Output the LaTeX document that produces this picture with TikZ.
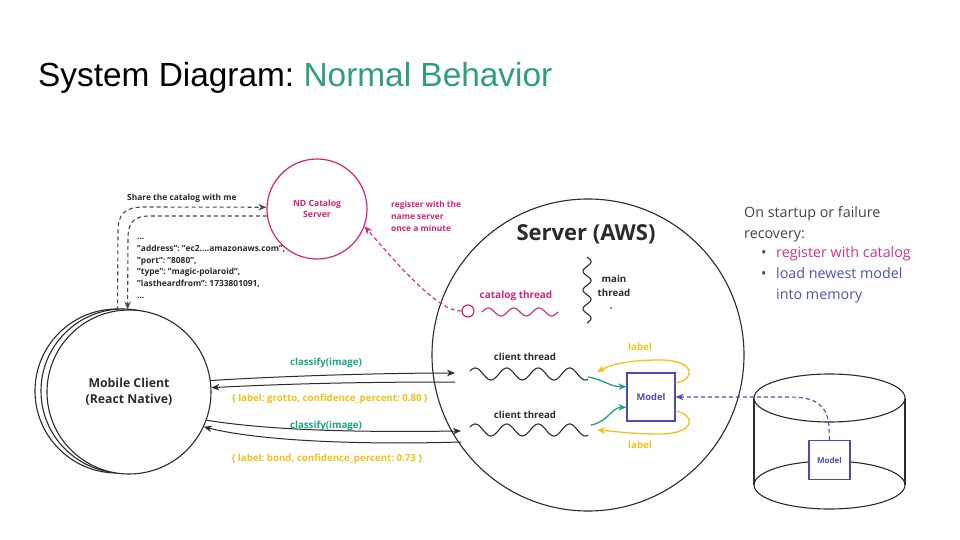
\documentclass[tikz,border=0pt]{standalone}
\usepackage{fontspec}
\setmainfont{Open Sans}
\newfontfamily\titlefont{Liberation Sans}
\usetikzlibrary{arrows.meta}
\definecolor{titlegreen}{HTML}{2E9E7F}
\definecolor{catmag}{HTML}{D4237A}
\definecolor{reqteal}{HTML}{1BA488}
\definecolor{respyel}{HTML}{F2C21A}
\definecolor{modblue}{HTML}{4B4BB0}
\definecolor{ink}{HTML}{2B2B2B}
\definecolor{notegray}{HTML}{444444}
\definecolor{notemag}{HTML}{D6337F}
\definecolor{noteblue}{HTML}{4D54B3}
\frenchspacing

\begin{document}
\begin{tikzpicture}[x=1pt,y=-1pt,
  bubble/.style={circle,draw=ink,line width=1.1pt,fill=white,inner sep=0pt},
  tiny/.style={font=\fontsize{8.4}{11.8}\selectfont\bfseries,text=ink},
  small/.style={font=\fontsize{9.7}{11}\selectfont\bfseries},
  msg/.style={draw=ink,line width=1pt,-{Stealth[length=8pt,width=6.5pt]}},
  dashlink/.style={draw=#1,line width=1.1pt,dash pattern=on 4pt off 3pt,
    -{Stealth[length=8pt,width=6.5pt]}},
  colarrow/.style={draw=#1,line width=1.3pt,-{Stealth[length=8pt,width=6.5pt]}},
  wave/.style={line width=1.1pt},
  note/.style={anchor=base west,font=\fontsize{14.3}{16}\selectfont,inner sep=0pt}]

\useasboundingbox (0,0) rectangle (960,540);
\fill[white] (0,0) rectangle (960,540);

% heading
\node[anchor=base west,inner sep=0pt,font=\titlefont\fontsize{33.4}{38}\selectfont] (title) at (38,87)
  {System Diagram: \textcolor{titlegreen}{Normal Behavior}};

% mobile client (stacked circles)
\node[bubble,minimum size=164pt] (clientC) at (117,391) {};
\node[bubble,minimum size=164pt] (clientB) at (123,391) {};
\node[bubble,minimum size=164pt,align=center,font=\fontsize{12.3}{16}\selectfont\bfseries,text=ink]
  (client) at (129,392) {Mobile Client\\(React Native)};

% catalog server
\node[circle,draw=catmag,line width=1.2pt,minimum size=100pt,inner sep=0pt,align=center,
  font=\fontsize{8.6}{11.5}\selectfont\bfseries,text=catmag] (catalog) at (317,209) {ND Catalog\\Server};

% server
\node[bubble,minimum size=312pt] (server) at (588,355) {};
\node[font=\fontsize{22}{24}\selectfont\bfseries,text=ink] (serverlbl) at (586,234) {Server (AWS)};

% model inside the server
\node[draw=modblue,line width=1.2pt,minimum size=48pt,inner sep=0pt,fill=white,text=modblue,
  font=\fontsize{9.3}{11}\selectfont\bfseries] (model) at (651,397) {Model};

% model store (cylinder)
\draw[ink,line width=1.1pt] (754,398) -- (754,485) (905,398) -- (905,485);
\draw[ink,line width=1.1pt] (829.5,485) ellipse [x radius=75.5,y radius=24];
\draw[ink,line width=1.1pt,fill=white] (829.5,398) ellipse [x radius=75.5,y radius=24];
\node[draw=modblue,line width=1.2pt,minimum width=41pt,minimum height=39pt,inner sep=0pt,fill=white,
  text=modblue,font=\fontsize{8}{10}\selectfont\bfseries] (dbmodel) at (829.5,460) {Model};

% catalog exchange
\node[tiny,anchor=west,inner sep=0pt] (sharelbl) at (127,198) {Share the catalog with me};
\draw[dashlink=ink!85] (client.98) -- (118,232) .. controls (118,214) and (124,207) .. (145,207) -- (catalog.178);
\draw[dashlink=ink!85] (catalog.188) -- (150,216) .. controls (134,216) and (128,222) .. (128,238) -- (client.91);
\node[tiny,anchor=north west,align=left,inner sep=0pt] (record) at (137,238)
  {...\\
   "address": "ec2....amazonaws.com",\\
   "port": "8080",\\
   "type": "magic-polaroid",\\
   "lastheardfrom": 1733801091,\\
   ...};

% catalog thread and registration
\node[tiny,text=catmag,anchor=north west,align=left,inner sep=0pt] (reglbl) at (391,201)
  {register with the\\name server\\once a minute};
\node[circle,draw=catmag,line width=1.2pt,minimum size=12pt,inner sep=0pt] (loop) at (468,311) {};
\draw[dashlink=catmag] (loop.west) .. controls (440,312) and (402,270) .. (catalog.-20);
\node[text=catmag,font=\fontsize{10}{12}\selectfont\bfseries] (catlbl) at (516,296) {catalog thread};
\draw[wave,catmag] plot[domain=0:76,samples=90,smooth] ({482+\x},{312-4*sin(\x/76*3*360)});

% main thread
\draw[wave,ink] plot[domain=0:66,samples=90,smooth] ({587+4*sin(\x/66*3.5*360)},{257+\x});
\node[text=ink,align=center,font=\fontsize{9.7}{14}\selectfont\bfseries] (mainlbl) at (614,286) {main\\thread};
\fill[ink] (611,308) circle (0.9pt);

% client threads
\coordinate (w1a) at (470,374);
\coordinate (w1b) at (588,377);
\coordinate (w2a) at (470,431);
\coordinate (w2b) at (591,425);
\draw[wave,ink] plot[domain=0:118,samples=120,smooth] ({470+\x},{374-6*sin(\x/118*3.75*360+30)});
\draw[wave,ink] plot[domain=0:118,samples=120,smooth] ({470+\x},{430-6*sin(\x/118*3.75*360+30)});
\node[small,text=ink] (ct1) at (525,357) {client thread};
\node[small,text=ink] (ct2) at (525,415) {client thread};

% requests and responses
\coordinate (in1) at (455,373);
\coordinate (out1) at (455,382);
\coordinate (in2) at (461,431);
\coordinate (out2) at (461,442);
\draw[msg] (client.8) .. controls (300,375) and (400,373) .. (in1);
\draw[msg] (out1) .. controls (380,382) and (300,383) .. (client.3);
\draw[msg] (client.-20) .. controls (280,432) and (380,432) .. (in2);
\draw[msg] (out2) .. controls (360,445) and (260,441) .. (client.-25);
\node[small,text=reqteal] (req1) at (326,363) {classify(image)};
\node[small,text=reqteal] (req2) at (326,426) {classify(image)};
\node[small,text=respyel] (resp1) at (330,399) {\{ label: grotto, confidence\_percent: 0.80 \}};
\node[small,text=respyel] (resp2) at (327,459) {\{ label: bond, confidence\_percent: 0.73 \}};

% threads call the model
\draw[colarrow=reqteal] (w1b) .. controls (605,380) and (610,387) .. (model.157);
\draw[colarrow=reqteal] (w2b) .. controls (608,422) and (612,407) .. (model.203);

% model returns labels
\coordinate (y1) at (597,372);
\coordinate (y2) at (597,430);
\draw[colarrow=respyel] (model.30) .. controls (696,380) and (696,360) .. (660,360) .. controls (630,360) and (612,364) .. (y1);
\draw[colarrow=respyel] (model.-30) .. controls (696,414) and (696,434) .. (660,434) .. controls (630,434) and (612,431) .. (y2);
\node[small,text=respyel] (lab1) at (640,347) {label};
\node[small,text=respyel] (lab2) at (640,445) {label};

% model loaded from the store
\draw[dashlink=modblue] (dbmodel.north) -- (829,430) .. controls (829,405) and (815,397) .. (790,397) -- (model.east);

% startup notes
\node[note,text=notegray] (n1) at (744,217) {On startup or failure};
\node[note,text=notegray] (n2) at (744,238) {recovery:};
\node[note,text=notegray] (b1) at (761,257) {\textbullet};
\node[note,text=notemag] (n3) at (776,257) {register with catalog};
\node[note,text=notegray] (b2) at (761,278) {\textbullet};
\node[note,text=noteblue] (n4) at (776,278) {load newest model};
\node[note,text=noteblue] (n5) at (776,299) {into memory};
\end{tikzpicture}
\end{document}
